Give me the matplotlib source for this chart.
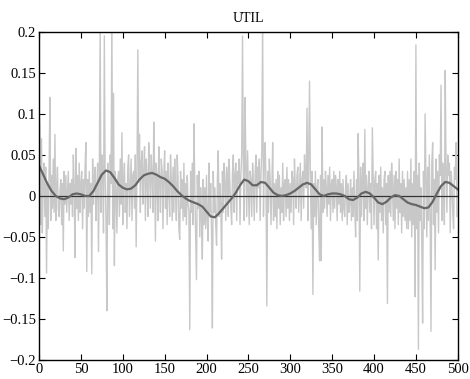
import numpy as np
import matplotlib
matplotlib.use('Agg')
import matplotlib.pyplot as plt
from matplotlib.ticker import FuncFormatter, MultipleLocator

# monthly utility series, in percent
util_pct = [
    11.0, 8.5, -3.5, 7.0, -4.5, 2.0, 4.0, -2.5, 3.5, -9.4, 1.5, -4.0, 3.0, 12.0, -3.0, 2.5, -1.5, 4.5, -2.0, 7.5,
    -3.0, 1.0, 3.5, -1.5, -2.5, 0.5, 2.0, -3.5, 1.5, -6.7, 3.0, -1.0, 2.5, -2.0, 0.5, 3.0, -3.0, 1.5, -1.0, 2.0,
    -2.5, 5.0, 1.0, -7.5, 5.8, -1.5, 2.5, -3.0, 4.0, -2.0, 1.5, 3.0, -4.0, 2.0, -1.5, 3.5, 6.5, -9.2, 2.0, -2.5,
    3.0, -2.0, 1.5, -9.5, 4.5, -1.0, 2.0, 3.5, -3.0, 1.0, 4.0, -6.8, 2.5, 21.0, -2.0, 5.0, 3.0, -4.5, 19.5, 2.0,
    -3.0, -14.0, 4.0, 2.0, -3.5, 5.0, 1.5, 22.0, -4.0, 12.5, -8.5, 3.0, 1.0, -4.5, 2.0, 3.0, -2.5, 4.5, -1.0, 7.7,
    -3.5, 2.0, 4.0, -2.0, 1.5, -4.0, 3.5, 5.0, -2.5, 1.0, 4.5, -3.0, 2.5, 3.0, -1.5, 5.0, -6.2, 3.0, 17.8, 2.0,
    7.5, -2.0, 4.0, 5.5, -1.0, 3.0, 6.0, -3.0, 4.5, 2.0, -2.5, 6.5, 3.0, -1.5, 5.0, 2.5, -2.0, 9.0, 3.5, -5.5,
    4.0, 2.0, -3.0, 6.0, 1.5, -2.0, 4.5, 3.0, -4.0, 2.5, 5.5, -1.5, 3.0, -3.5, 4.0, 1.0, -2.5, 5.0, 2.0, -3.0,
    3.5, -2.0, 4.5, 1.0, -3.0, 5.0, 2.0, -4.0, -5.3, 3.0, -1.5, 2.0, -3.0, 4.0, -2.5, 1.5, -3.5, 2.5, -1.0, -2.0,
    -16.3, 3.0, -2.0, 4.0, -3.5, 8.8, 1.0, -4.5, -10.2, 2.5, -1.5, 3.0, -5.0, 1.0, -2.5, -7.7, 2.0, -3.5, 1.0, -4.0,
    2.5, -3.0, -5.5, 4.0, -2.0, 1.5, -4.5, -16.1, 3.0, -2.0, 1.0, -3.5, -6.0, 2.0, 5.5, -2.5, 1.5, -1.0, -7.7, 3.0,
    -2.0, 4.0, 1.5, -3.0, 3.5, 2.0, -2.5, 4.5, 1.0, -1.5, -3.5, 3.0, 5.0, -2.0, 2.5, 4.0, -3.0, 3.0, 1.5, 4.5,
    -3.5, 2.5, 5.0, 19.5, 3.0, -3.0, 12.0, 4.0, -2.5, 5.5, 1.0, -3.5, 3.0, 2.0, -2.5, 4.0, 1.5, -3.0, 2.5, 5.0,
    -2.0, 3.5, 1.0, 4.5, -3.0, 2.5, 5.5, 21.0, -2.5, 4.0, 6.5, 1.5, -13.4, 3.0, -2.0, 4.5, 2.0, -3.5, 1.0, 6.5,
    -3.0, 1.5, -2.5, 2.0, -4.0, 3.0, -1.5, 2.5, -3.5, 1.0, -2.0, 4.0, -3.0, 1.5, 2.0, -2.5, 3.5, -1.5, 2.0, -3.0,
    1.5, -2.0, 3.0, 2.0, -3.5, 4.5, 1.0, -1.5, 2.5, 3.5, -2.0, 1.0, 4.0, -3.0, 2.0, 3.0, -1.5, 5.0, 2.5, 1.0,
    10.7, -3.0, 4.5, 14.0, 2.0, -4.0, 3.0, -12.0, 1.5, -2.5, 3.0, -3.5, 1.0, 2.0, -4.0, -7.9, 2.5, -7.9, 8.4, -2.0,
    2.0, -1.5, 3.0, 1.0, -2.5, 2.5, -1.0, 3.5, -3.0, 1.5, 2.0, -2.0, 3.0, -1.5, 2.5, 1.0, -3.0, 2.0, -1.0, 3.0,
    -2.0, 1.5, -3.0, 2.0, -1.5, -2.5, 1.0, 2.5, -3.5, 1.5, -2.0, -1.0, 2.0, -3.0, 1.0, -2.5, 3.0, -1.5, -5.0, 2.0,
    -3.0, 7.6, 2.0, -11.6, 3.5, -2.5, 1.5, 4.0, -3.0, 8.1, -1.5, 2.5, -3.5, 1.0, 3.0, -2.0, 1.5, -4.0, 8.3, 2.0,
    -3.5, 2.0, 3.0, -4.0, 1.5, -7.8, 2.5, -2.0, 3.5, -3.0, 1.0, -4.5, 2.0, 3.0, -3.5, 1.5, -13.1, 2.5, -2.0, 3.0,
    -2.5, 4.0, 1.0, -3.0, 2.5, -4.0, 3.0, -1.5, 2.0, -3.5, 4.5, -2.0, 1.5, -4.5, 3.0, -2.5, 2.0, -3.0, 1.0, -4.0,
    3.0, -4.0, 2.0, -3.0, 4.5, -5.0, 1.5, -3.5, 3.0, -12.3, 18.4, -4.0, 2.5, -18.7, 4.0, -3.0, 1.0, -5.5, -15.5, 3.0,
    -4.0, 10.0, 2.0, -5.0, 3.5, -3.0, 5.0, -2.5, -16.5, 4.0, 6.5, -3.5, 2.0, -9.0, 4.5, -2.0, 3.0, -4.5, 5.0, 2.5,
    13.5, -3.0, 4.0, 2.0, -3.5, 15.3, 3.0, -2.0, 5.0, 2.5, 4.0, -4.5, 3.0, 1.5, -2.0, -4.0, 3.5, 2.0, 6.5, -2.5,
]

# smoothed trend, sampled every 5 observations
trend_t = list(range(0, 501, 5))
trend = [
    0.037, 0.026, 0.015, 0.006, 0.000, -0.003, -0.004, -0.002, 0.002, 0.003,
    0.002, 0.000, 0.000, 0.006, 0.016, 0.026, 0.031, 0.029, 0.022, 0.014,
    0.010, 0.008, 0.009, 0.013, 0.020, 0.025, 0.027, 0.028, 0.026, 0.023,
    0.021, 0.017, 0.012, 0.006, 0.001, -0.003, -0.006, -0.008, -0.010, -0.013,
    -0.019, -0.025, -0.026, -0.021, -0.015, -0.009, -0.003, 0.004, 0.013, 0.020,
    0.018, 0.013, 0.013, 0.017, 0.016, 0.010, 0.004, 0.001, 0.000, 0.001,
    0.003, 0.006, 0.010, 0.014, 0.016, 0.014, 0.008, 0.002, 0.000, 0.002,
    0.003, 0.003, 0.002, 0.000, -0.004, -0.005, -0.002, 0.003, 0.005, 0.003,
    -0.002, -0.008, -0.010, -0.007, -0.002, 0.001, 0.000, -0.004, -0.008, -0.010,
    -0.011, -0.013, -0.015, -0.014, -0.007, 0.003, 0.012, 0.017, 0.016, 0.012,
    0.008,
]

util = np.array(util_pct) / 100.0
t = np.arange(len(util))

plt.rcParams['font.family'] = ['Liberation Serif', 'DejaVu Serif']
plt.rcParams['font.size'] = 10.5

fig = plt.figure(figsize=(4.70, 3.79), dpi=100)
ax = fig.add_axes([0.083, 0.05, 0.891, 0.866])

ax.plot(t, util, color='#c8c8c8', linewidth=1.0)
ax.axhline(0, color='#333333', linewidth=0.9)
ax.plot(trend_t, trend, color='#666666', linewidth=1.6)

ax.set_xlim(0, 500)
ax.set_ylim(-0.2, 0.2)
ax.xaxis.set_major_locator(MultipleLocator(50))
ax.yaxis.set_major_locator(MultipleLocator(0.05))
ax.yaxis.set_major_formatter(FuncFormatter(lambda v, p: ('%g' % round(v, 3)).replace('-', '\u2212')))
ax.tick_params(direction='in', length=4, width=0.8, top=True, right=True, pad=2)
for s in ax.spines.values():
    s.set_linewidth(1.0)

ax.set_title('UTIL', fontsize=10, pad=7)

fig.savefig('out.png', dpi=100)
